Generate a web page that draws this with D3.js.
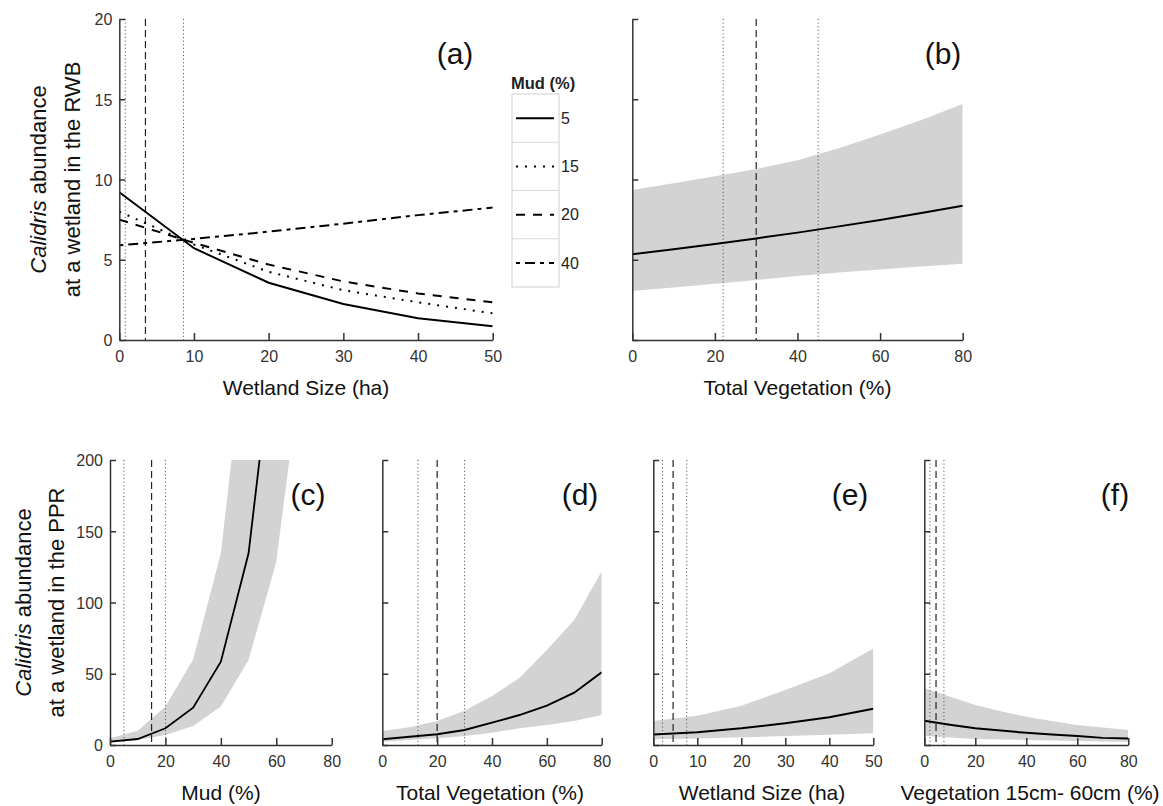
<!DOCTYPE html>
<html>
<head>
<meta charset="utf-8">
<script src="https://cdn.jsdelivr.net/npm/d3@7"></script>
<style>
  body { margin: 0; background: #fff; }
  svg { display: block; font-family: "Liberation Sans", Arial, sans-serif; }
</style>
</head>
<body>
<svg id="chart" width="1163" height="806"></svg>
<script>
// ---------------- DATA ----------------
// Panel (a): Wetland Size (ha) vs abundance (RWB), by Mud (%)
const aX = [0, 10, 20, 30, 40, 50];
const aMud5  = [9.2, 5.72, 3.57, 2.24, 1.35, 0.86];
const aMud15 = [8.0, 5.95, 4.25, 3.1, 2.35, 1.66];
const aMud20 = [7.5, 6.05, 4.7, 3.65, 2.9, 2.35];
const aMud40 = [5.9, 6.3, 6.75, 7.25, 7.78, 8.25];
const aMudLevels = ["5", "15", "20", "40"];
const aVDotted = [0.8, 8.6];
const aVDashed = [3.5];

// Panel (b): Total Vegetation (%) (RWB)
const bX   = [0, 10, 20, 30, 40, 50, 60, 70, 80];
const bFit = [5.35, 5.66, 5.98, 6.33, 6.69, 7.08, 7.48, 7.91, 8.37];
const bLow = [3.05, 3.27, 3.5, 3.74, 3.98, 4.2, 4.4, 4.58, 4.75];
const bUp  = [9.35, 9.76, 10.2, 10.65, 11.2, 11.95, 12.8, 13.7, 14.7];
const bVDotted = [22, 45];
const bVDashed = [30];

// Panel (c): Mud (%) (PPR)
const cX   = [0, 10, 20, 30, 40, 50, 60, 70];
const cFit = [2.3, 4.2, 11.7, 26.2, 58.5, 134.5, 300, 680];
const cLow = [1.6, 3.5, 7, 13.3, 27, 59.6, 128.6, 280];
const cUp  = [4.7, 10, 27, 60, 134.6, 305, 690, 1500];
const cVDotted = [5, 20];
const cVDashed = [15];

// Panel (d): Total Vegetation (%) (PPR)
const dX   = [0, 10, 20, 30, 40, 50, 60, 70, 80];
const dFit = [4.0, 5.8, 7.5, 10.5, 15.7, 21, 27.6, 36.7, 51];
const dLow = [2.3, 3.5, 4.7, 6.3, 8.6, 11.7, 14, 16.8, 21];
const dUp  = [9.8, 12.4, 16.8, 24, 34.4, 47, 66.7, 87.7, 122];
const dVDotted = [13, 30];
const dVDashed = [20];

// Panel (e): Wetland Size (ha) (PPR)
const eX   = [0, 10, 20, 30, 40, 50];
const eFit = [7.3, 9.0, 11.7, 15.2, 19.5, 25.5];
const eLow = [4.0, 4.6, 5.4, 6.3, 7.2, 8.3];
const eUp  = [16.8, 20.5, 27.5, 38.6, 50.3, 67.8];
const eVDotted = [2.1, 7.6];
const eVDashed = [4.5];

// Panel (f): Vegetation 15cm- 60cm (%) (PPR)
const fX   = [0, 10, 20, 30, 40, 50, 60, 70, 80];
const fFit = [17, 14.2, 11.7, 10.1, 8.6, 7.4, 6.3, 5.0, 4.6];
const fLow = [6.5, 5.2, 4.2, 3.8, 3.5, 3.1, 2.8, 2.5, 2.3];
const fUp  = [39.8, 34, 28, 23.6, 19.9, 16.8, 14, 12.2, 10.5];
const fVDotted = [2.2, 7.7];
const fVDashed = [4.6];

// Tick values
const topYTicks = [0, 5, 10, 15, 20];
const botYTicks = [0, 50, 100, 150, 200];
const ticks80 = [0, 20, 40, 60, 80];
const ticks50 = [0, 10, 20, 30, 40, 50];

// ---------------- DRAWING ----------------
const svg = d3.select("#chart");
const AXC = "#333";
const dashes = { solid: null, dotted: "2,7", dashed: "9,8", dotdash: "4,5,10,5" };

let clipId = 0;
function panel(o) {
  const x = d3.scaleLinear().domain(o.xDomain).range([o.x0, o.x1]);
  const y = d3.scaleLinear().domain(o.yDomain).range([o.yBot, o.yTop]);
  const id = "clip" + (clipId++);
  svg.append("clipPath").attr("id", id).append("rect")
    .attr("x", o.x0).attr("y", o.yTop).attr("width", o.x1 - o.x0).attr("height", o.yBot - o.yTop);
  const g = svg.append("g");
  const pg = g.append("g").attr("clip-path", `url(#${id})`);

  if (o.band) {
    const area = d3.area().x((d, i) => x(o.band.x[i])).y0((d, i) => y(o.band.low[i])).y1((d, i) => y(o.band.up[i]));
    pg.append("path").datum(o.band.x).attr("d", area).attr("fill", "#d3d3d3");
  }
  // vertical reference lines
  (o.vDotted || []).forEach(v => pg.append("line").attr("x1", x(v)).attr("x2", x(v)).attr("y1", o.yTop).attr("y2", o.yBot)
      .attr("stroke", "#444").attr("stroke-width", 1).attr("stroke-dasharray", "1,2.6"));
  (o.vDashed || []).forEach(v => pg.append("line").attr("x1", x(v)).attr("x2", x(v)).attr("y1", o.yTop).attr("y2", o.yBot)
      .attr("stroke", "#222").attr("stroke-width", 1.2).attr("stroke-dasharray", "7,4"));

  (o.lines || []).forEach(L => {
    const line = d3.line().x((d, i) => x(L.x[i])).y(d => y(d));
    pg.append("path").datum(L.y).attr("d", line).attr("fill", "none")
      .attr("stroke", "#000").attr("stroke-width", L.w || 2)
      .attr("stroke-dasharray", dashes[L.style]);
  });

  // axes
  const xa = d3.axisBottom(x).tickValues(o.xTicks).tickSize(-7).tickSizeOuter(0).tickPadding(11);
  const gx = g.append("g").attr("transform", `translate(0,${o.yBot})`).call(xa);
  const ya = d3.axisLeft(y).tickValues(o.yTicks).tickSize(-6).tickSizeOuter(0).tickPadding(7);
  if (!o.yLabels) ya.tickFormat("");
  const gy = g.append("g").attr("transform", `translate(${o.x0},0)`).call(ya);
  [gx, gy].forEach(a => {
    a.select(".domain").attr("stroke", AXC).attr("stroke-width", 1.5);
    a.selectAll(".tick line").attr("stroke", AXC).attr("stroke-width", 1.5);
    a.selectAll(".tick text").attr("fill", "#333").style("font-size", "16px").style("font-family", '"Liberation Sans", Arial, sans-serif');
  });
  gy.selectAll(".tick text").attr("dy", "0.36em");

  // x title
  svg.append("text").attr("x", o.xTitleX != null ? o.xTitleX : (o.x0 + o.x1) / 2).attr("y", o.yBot + 55)
    .attr("text-anchor", "middle").attr("fill", "#111").style("font-size", "21px").text(o.xTitle);
  // panel label
  svg.append("text").attr("x", o.labX).attr("y", o.yTop + 45).attr("text-anchor", "middle")
    .attr("fill", "#111").style("font-size", "30px").text(o.label);

  if (o.yTitle2) {
    const cy = (o.yTop + o.yBot) / 2;
    const t1 = svg.append("text").attr("transform", `translate(${o.yTitleX1},${cy}) rotate(-90)`)
      .attr("text-anchor", "middle").attr("dy", "0.36em").attr("fill", "#111").style("font-size", "22px");
    t1.append("tspan").style("font-style", "italic").text("Calidris");
    t1.append("tspan").text(" abundance");
    svg.append("text").attr("transform", `translate(${o.yTitleX2},${cy}) rotate(-90)`)
      .attr("text-anchor", "middle").attr("dy", "0.36em").attr("fill", "#111").style("font-size", "22px").text(o.yTitle2);
  }
  return { x, y };
}

// Panel (a)
panel({
  x0: 119.3, x1: 492.7, yTop: 19, yBot: 340, xDomain: [0, 50], yDomain: [0, 20],
  xTicks: ticks50, yTicks: topYTicks, yLabels: true,
  vDotted: aVDotted, vDashed: aVDashed,
  lines: [
    { x: aX, y: aMud5, style: "solid" },
    { x: aX, y: aMud15, style: "dotted" },
    { x: aX, y: aMud20, style: "dashed" },
    { x: aX, y: aMud40, style: "dotdash" }
  ],
  xTitle: "Wetland Size (ha)", label: "(a)", labX: 455,
  yTitle2: "at a wetland in the RWB", yTitleX1: 38, yTitleX2: 72
});

// Panel (b)
panel({
  x0: 632.3, x1: 962.7, yTop: 19, yBot: 340, xDomain: [0, 80], yDomain: [0, 20],
  xTicks: ticks80, yTicks: topYTicks, yLabels: false,
  band: { x: bX, low: bLow, up: bUp },
  vDotted: bVDotted, vDashed: bVDashed,
  lines: [{ x: bX, y: bFit, style: "solid" }],
  xTitle: "Total Vegetation (%)", label: "(b)", labX: 943
});

// Bottom panels
const bt = { yTop: 460, yBot: 745, yDomain: [0, 200], yTicks: botYTicks };
panel(Object.assign({}, bt, {
  x0: 110, x1: 331.7, xDomain: [0, 80], xTicks: ticks80, yLabels: true,
  band: { x: cX, low: cLow, up: cUp }, vDotted: cVDotted, vDashed: cVDashed,
  lines: [{ x: cX, y: cFit, style: "solid", w: 1.8 }],
  xTitle: "Mud (%)", xTitleX: 221, label: "(c)", labX: 308,
  yTitle2: "at a wetland in the PPR", yTitleX1: 23, yTitleX2: 56
}));
panel(Object.assign({}, bt, {
  x0: 382.3, x1: 601.7, xDomain: [0, 80], xTicks: ticks80, yLabels: false,
  band: { x: dX, low: dLow, up: dUp }, vDotted: dVDotted, vDashed: dVDashed,
  lines: [{ x: dX, y: dFit, style: "solid" }],
  xTitle: "Total Vegetation (%)", xTitleX: 490, label: "(d)", labX: 580
}));
panel(Object.assign({}, bt, {
  x0: 653.3, x1: 873.3, xDomain: [0, 50], xTicks: ticks50, yLabels: false,
  band: { x: eX, low: eLow, up: eUp }, vDotted: eVDotted, vDashed: eVDashed,
  lines: [{ x: eX, y: eFit, style: "solid" }],
  xTitle: "Wetland Size (ha)", xTitleX: 762, label: "(e)", labX: 850
}));
panel(Object.assign({}, bt, {
  x0: 924.3, x1: 1128.3, xDomain: [0, 80], xTicks: ticks80, yLabels: false,
  band: { x: fX, low: fLow, up: fUp }, vDotted: fVDotted, vDashed: fVDashed,
  lines: [{ x: fX, y: fFit, style: "solid" }],
  xTitle: "Vegetation 15cm- 60cm (%)", xTitleX: 1030, label: "(f)", labX: 1115
}));

// Legend for panel (a)
const leg = svg.append("g");
const lx0 = 512, lx1 = 559, ly0 = 94, ly1 = 287;
const rowH = (ly1 - ly0) / aMudLevels.length;
const legStyles = ["solid", "dotted", "dashed", "dotdash"];
leg.append("text").attr("x", 511).attr("y", 89).attr("text-anchor", "start")
  .style("font-size", "16.5px").style("font-weight", "bold").attr("fill", "#222").text("Mud (%)");
leg.append("rect").attr("x", lx0).attr("y", ly0).attr("width", lx1 - lx0).attr("height", ly1 - ly0)
  .attr("fill", "none").attr("stroke", "#d8d8d8").attr("stroke-width", 1.2);
aMudLevels.forEach((lev, i) => {
  const cy = ly0 + rowH * (i + 0.5);
  if (i > 0) leg.append("line").attr("x1", lx0).attr("x2", lx1).attr("y1", ly0 + rowH * i).attr("y2", ly0 + rowH * i)
    .attr("stroke", "#d8d8d8").attr("stroke-width", 1.2);
  leg.append("line").attr("x1", 516).attr("x2", 554).attr("y1", cy).attr("y2", cy)
    .attr("stroke", "#000").attr("stroke-width", 2).attr("stroke-dasharray", dashes[legStyles[i]]);
  leg.append("text").attr("x", 561).attr("y", cy).attr("dy", "0.36em")
    .style("font-size", "16px").attr("fill", "#222").text(lev);
});
</script>
</body>
</html>
